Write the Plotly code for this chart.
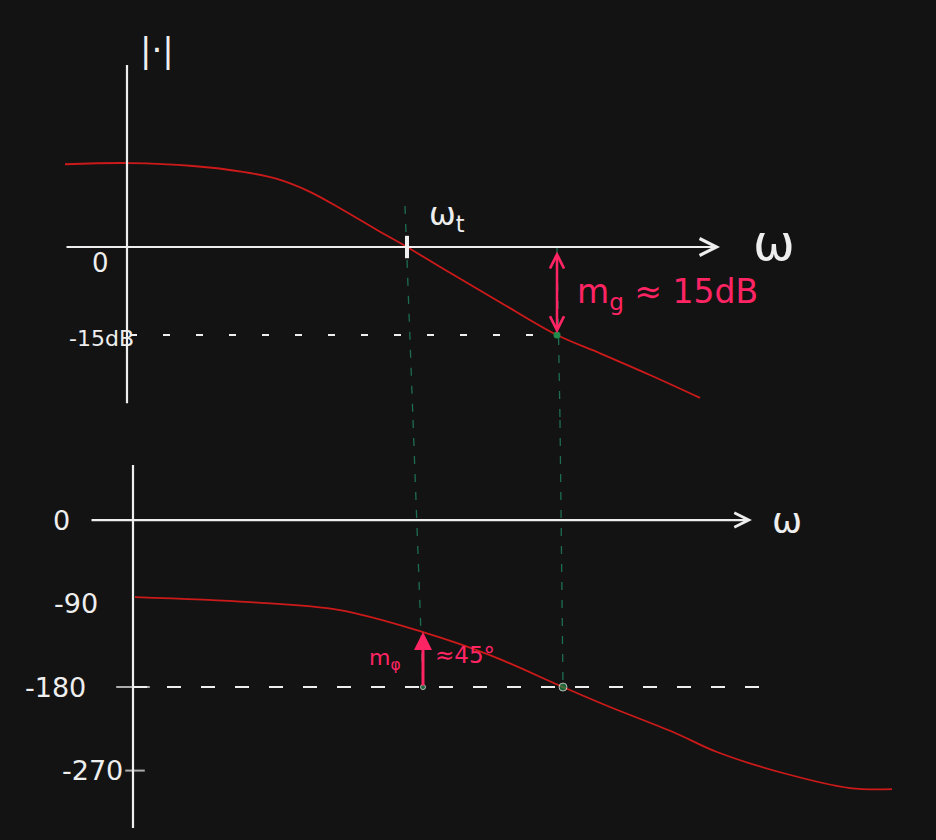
import plotly.graph_objects as go

# ---- data ----
omega_mag = [-0.62, 0.03, 0.66, 1.16, 1.50, 1.83, 2.16, 2.50, 2.80, 3.23, 3.73, 4.30, 4.73, 5.23, 5.73]
mag_db = [14.1, 14.3, 13.8, 12.8, 11.6, 9.4, 6.3, 2.9, 0.0, -4.4, -9.4, -15.0, -18.1, -21.8, -25.7]

omega_phase = [0.08, 1.23, 2.13, 2.96, 3.63, 4.36, 4.83, 5.46, 5.90, 6.56, 7.23, 7.65]
phase_deg = [-83.0, -88.4, -97.0, -120.7, -145.5, -180.0, -201.5, -228.4, -250.0, -272.6, -288.8, -289.9]

phase_ticks = [0, -90, -180, -270]
phase_tick_labels = ["0", "-90", "-180", "-270"]

omega_t = 2.80          # gain crossover
omega_pm = 2.96         # where the phase margin arrow is drawn
omega_gm_mag = 4.30     # gain margin read on magnitude plot
omega_pc = 4.36         # phase crossover (-180 deg)
gain_margin_db = -15.0
phase_at_pm = -120.7

BG = "#131313"
WHITE = "#eeeeee"
RED = "#cc1a1a"
PINK = "#ff2463"
GREEN = "#1d6e50"
FONT = "DejaVu Sans"

fig = go.Figure()

# magnitude curve
fig.add_trace(go.Scatter(x=omega_mag, y=mag_db, mode="lines", line=dict(color=RED, width=1.8, shape="spline"),
                         xaxis="x", yaxis="y", hoverinfo="skip"))
# phase curve
fig.add_trace(go.Scatter(x=omega_phase, y=phase_deg, mode="lines", line=dict(color=RED, width=1.8, shape="spline"),
                         xaxis="x2", yaxis="y2", hoverinfo="skip"))

# vertical axes
fig.add_trace(go.Scatter(x=[0, 0], y=[31.0, -26.6], mode="lines", line=dict(color=WHITE, width=2.2),
                         xaxis="x", yaxis="y", hoverinfo="skip"))
fig.add_trace(go.Scatter(x=[0.06, 0.06], y=[59.3, -331.9], mode="lines", line=dict(color=WHITE, width=2.2),
                         xaxis="x2", yaxis="y2", hoverinfo="skip"))

# dashed reference lines
fig.add_trace(go.Scatter(x=[0.03, omega_gm_mag], y=[gain_margin_db, gain_margin_db], mode="lines",
                         line=dict(color=WHITE, width=2, dash="7px,26px"), xaxis="x", yaxis="y", hoverinfo="skip"))
fig.add_trace(go.Scatter(x=[0.06, 6.36], y=[-180, -180], mode="lines",
                         line=dict(color=WHITE, width=2, dash="14px,20px"), xaxis="x2", yaxis="y2", hoverinfo="skip"))

# green dashed verticals (top part and bottom part)
fig.add_trace(go.Scatter(x=[omega_t - 0.02, 2.86], y=[7.0, -29.47], mode="lines",
                         line=dict(color=GREEN, width=1.3, dash="8px,10px"), xaxis="x", yaxis="y", hoverinfo="skip"))
fig.add_trace(go.Scatter(x=[2.86, omega_pm], y=[107.8, -180], mode="lines",
                         line=dict(color=GREEN, width=1.3, dash="8px,10px"), xaxis="x2", yaxis="y2", hoverinfo="skip"))
fig.add_trace(go.Scatter(x=[omega_gm_mag, 4.33], y=[0, -29.47], mode="lines",
                         line=dict(color=GREEN, width=1.3, dash="8px,10px"), xaxis="x", yaxis="y", hoverinfo="skip"))
fig.add_trace(go.Scatter(x=[4.33, omega_pc], y=[107.8, -180], mode="lines",
                         line=dict(color=GREEN, width=1.3, dash="8px,10px"), xaxis="x2", yaxis="y2", hoverinfo="skip"))

# green dots
fig.add_trace(go.Scatter(x=[omega_gm_mag], y=[gain_margin_db], mode="markers",
                         marker=dict(color="#1f8a4a", size=7), xaxis="x", yaxis="y", hoverinfo="skip"))
fig.add_trace(go.Scatter(x=[omega_pc, omega_pm], y=[-180, -180], mode="markers",
                         marker=dict(color="#1f8a4a", size=[8, 5]), xaxis="x2", yaxis="y2", hoverinfo="skip"))

# tick marks
fig.add_trace(go.Scatter(x=[omega_t], y=[0], mode="markers",
                         marker=dict(symbol="line-ns", size=16, line=dict(color=WHITE, width=4)),
                         xaxis="x", yaxis="y", hoverinfo="skip"))
fig.add_trace(go.Scatter(x=[0.06, 0.08], y=[-180, -270], mode="markers",
                         marker=dict(symbol="line-ew", size=[24, 14], line=dict(color=WHITE, width=2)),
                         xaxis="x2", yaxis="y2", hoverinfo="skip"))

annotations = []
# horizontal axes with arrows
annotations.append(dict(x=5.93, y=0, ax=-0.62, ay=0, xref="x", yref="y", axref="x", ayref="y", text="",
                        showarrow=True, arrowhead=5, arrowsize=1.5, arrowwidth=2.2, arrowcolor=WHITE))
annotations.append(dict(x=6.25, y=0, ax=-0.37, ay=0, xref="x2", yref="y2", axref="x2", ayref="y2", text="",
                        showarrow=True, arrowhead=5, arrowsize=1.3, arrowwidth=2.2, arrowcolor=WHITE))
# gain margin double arrow
annotations.append(dict(x=omega_gm_mag, y=gain_margin_db + 0.3, ax=omega_gm_mag, ay=-0.5, xref="x", yref="y",
                        axref="x", ayref="y", text="", showarrow=True, arrowhead=5, startarrowhead=5,
                        arrowside="end+start", arrowsize=1.1, startarrowsize=1.1, arrowwidth=2.5, arrowcolor=PINK))
# phase margin arrow
annotations.append(dict(x=omega_pm, y=phase_at_pm, ax=omega_pm, ay=-180, xref="x2", yref="y2",
                        axref="x2", ayref="y2", text="", showarrow=True, arrowhead=2, arrowsize=1.2,
                        arrowwidth=3, arrowcolor=PINK))

def label(text, x, y, xr, yr, size, color=WHITE, xanchor="center"):
    annotations.append(dict(text=text, x=x, y=y, xref=xr, yref=yr, showarrow=False, xanchor=xanchor,
                            yanchor="middle", font=dict(family=FONT, size=size, color=color)))

label("|·|", 0.30, 33.6, "x", "y", 34)
label("0", -0.27, -2.7, "x", "y", 26)
label("-15dB", 0.09, -15.5, "x", "y", 22, xanchor="right")
label("ω<sub>t</sub>", 3.20, 5.3, "x", "y", 32)
label("ω", 6.47, 0.6, "x", "y", 50)
label("m<sub>g</sub> ≈ 15dB", 4.48, -8.0, "x", "y", 33, color=PINK, xanchor="left")

label("ω", 6.60, 0, "x2", "y2", 36)
label("m<sub>φ</sub>", 2.58, -150.0, "x2", "y2", 22, color=PINK)
label("≈45°", 3.06, -145.0, "x2", "y2", 23, color=PINK, xanchor="left")
tick_right = [-0.55, -0.27, -0.39, -0.02]
for v, t, xr in zip(phase_ticks, phase_tick_labels, tick_right):
    label(t, xr, v, "x2", "y2", 27, xanchor="right")

ax_common = dict(visible=False, showgrid=False, zeroline=False, fixedrange=True)
fig.update_layout(
    width=936, height=840,
    margin=dict(l=0, r=0, t=0, b=0),
    paper_bgcolor=BG, plot_bgcolor=BG,
    showlegend=False,
    xaxis=dict(domain=[0, 1], range=[-1.27, 8.09], anchor="y", **ax_common),
    yaxis=dict(domain=[0.5, 1], range=[-29.47, 42.08], anchor="x", **ax_common),
    xaxis2=dict(domain=[0, 1], range=[-1.27, 8.09], anchor="y2", **ax_common),
    yaxis2=dict(domain=[0, 0.5], range=[-344.8, 107.8], anchor="x2", **ax_common),
    annotations=annotations,
)

page_fix = ("document.body.style.margin='0';document.body.style.padding='0';"
            "document.body.style.background='#131313';"
            "document.documentElement.style.background='#131313';"
            "document.body.style.overflow='hidden';")
fig.write_html("out.html", post_script=page_fix, config={"displayModeBar": False})
